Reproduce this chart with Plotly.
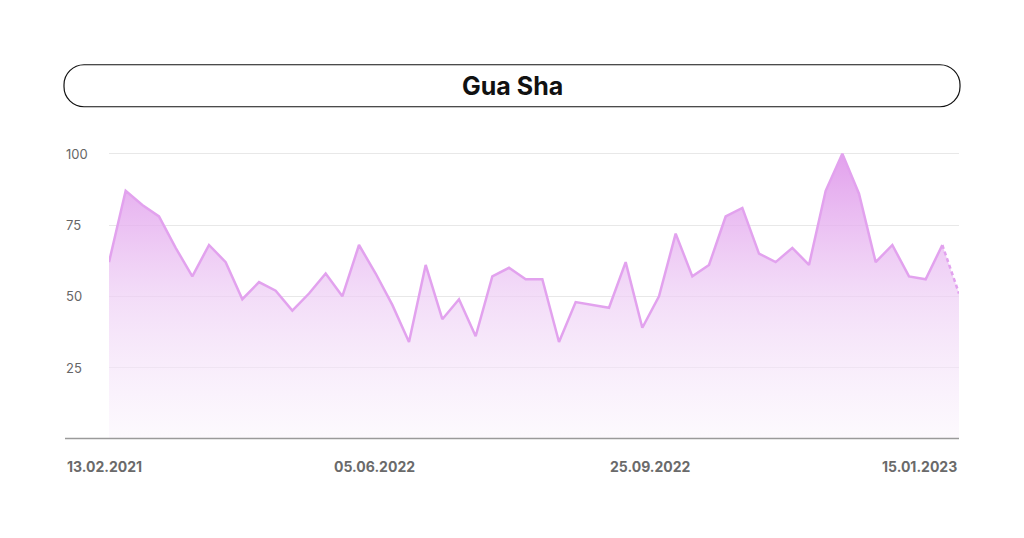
import plotly.graph_objects as go

# ---- data ----
week_index = list(range(52))
interest = [62, 87, 82, 78, 67, 57, 68, 62, 49, 55,
            52, 45, 51, 58, 50, 68, 58, 47, 34, 61,
            42, 49, 36, 57, 60, 56, 56, 34, 48, 47,
            46, 62, 39, 50, 72, 57, 61, 78, 81, 65,
            62, 67, 61, 87, 100, 86, 62, 68, 57, 56,
            68, 51]
x_tick_labels = ["13.02.2021", "05.06.2022", "25.09.2022", "15.01.2023"]
y_tick_values = [25, 50, 75, 100]
title_text = "Gua Sha"

# ---- layout geometry (page pixels; page body has an 8px margin) ----
OFF = 8
W, H = 1024 - OFF, 538 - OFF
PL, PR = 109 - OFF, 959 - OFF      # plot area left/right in figure px
PT, PB = 148.3 - OFF, 439.5 - OFF  # plot area top/bottom in figure px

def px(xp):
    """page x pixel -> paper coordinate"""
    return (xp - OFF - PL) / (PR - PL)

def py(yp):
    """page y pixel -> paper coordinate"""
    return (PB - (yp - OFF)) / (PB - PT)

LINE = "#E2A2EE"
TXT = "#666666"
FONT = "Inter, Lato, sans-serif"

fig = go.Figure()

# area fill with vertical gradient
fig.add_trace(go.Scatter(
    x=week_index, y=interest, mode="lines",
    line=dict(width=0, color=LINE),
    fill="tozeroy",
    fillgradient=dict(
        type="vertical",
        colorscale=[[0.0, "rgba(250,244,252,0.5)"],
                    [0.5, "rgba(238,206,245,0.7)"],
                    [1.0, "rgba(222,148,234,0.88)"]],
        start=0, stop=100),
    hoverinfo="skip", showlegend=False))

# solid line
fig.add_trace(go.Scatter(
    x=week_index[:-1], y=interest[:-1], mode="lines",
    line=dict(color=LINE, width=2.5), showlegend=False, cliponaxis=False))
# dashed last segment
fig.add_trace(go.Scatter(
    x=week_index[-2:], y=interest[-2:], mode="lines",
    line=dict(color=LINE, width=2.5, dash="4px,3px"), showlegend=False, cliponaxis=False))

shapes = []
# bottom axis line
shapes.append(dict(type="line", xref="paper", yref="paper",
                   x0=px(65), x1=px(959), y0=py(439), y1=py(439),
                   line=dict(color="#9a9a9a", width=1.5)))

# title pill
x0, x1, y0, y1, r = 64, 960, 65, 107, 20
k = 0.5523 * r
def P(a, b):
    return f"{px(a):.5f},{py(b):.5f}"
path = (f"M {P(x0 + r, y0)} L {P(x1 - r, y0)} "
        f"C {P(x1 - r + k, y0)} {P(x1, y0 + r - k)} {P(x1, y0 + r)} "
        f"L {P(x1, y1 - r)} "
        f"C {P(x1, y1 - r + k)} {P(x1 - r + k, y1)} {P(x1 - r, y1)} "
        f"L {P(x0 + r, y1)} "
        f"C {P(x0 + r - k, y1)} {P(x0, y1 - r + k)} {P(x0, y1 - r)} "
        f"L {P(x0, y0 + r)} "
        f"C {P(x0, y0 + r - k)} {P(x0 + r - k, y0)} {P(x0 + r, y0)} Z")
shapes.append(dict(type="path", xref="paper", yref="paper", path=path,
                   line=dict(color="#111111", width=1.2), fillcolor="rgba(0,0,0,0)"))

annotations = []
annotations.append(dict(text=f"<b>{title_text}</b>", xref="paper", yref="paper",
                        x=px(512), y=py(86), xanchor="center", yanchor="middle",
                        showarrow=False,
                        font=dict(family=FONT, size=25, color="#111111")))

# y tick labels (left aligned)
for v in y_tick_values:
    annotations.append(dict(text=str(v), xref="paper", yref="y", x=px(64), y=v,
                            xanchor="left", yanchor="middle", showarrow=False,
                            font=dict(family=FONT, size=13, color=TXT)))

# x labels spread along the baseline
x_label_pos = [(65, "left"), (374, "center"), (650, "center"), (959, "right")]
for lab, (xp, anc) in zip(x_tick_labels, x_label_pos):
    annotations.append(dict(text=f"<b>{lab}</b>", xref="paper", yref="paper",
                            x=px(xp), y=py(467), xanchor=anc, yanchor="middle",
                            showarrow=False,
                            font=dict(family=FONT, size=14, color="#6a6a6a")))

fig.update_layout(
    width=W, height=H,
    margin=dict(l=PL, r=W - PR, t=PT, b=H - PB, pad=0),
    paper_bgcolor="white", plot_bgcolor="white",
    xaxis=dict(range=[0, 51], showgrid=False, zeroline=False, showticklabels=False,
               showline=False, fixedrange=True),
    yaxis=dict(range=[0, 102], tickvals=y_tick_values, showticklabels=False,
               gridcolor="#e8e8e8", gridwidth=1, zeroline=False, showline=False,
               fixedrange=True),
    shapes=shapes, annotations=annotations, showlegend=False,
)

fig.write_html("out.html", config={"displayModeBar": False})
